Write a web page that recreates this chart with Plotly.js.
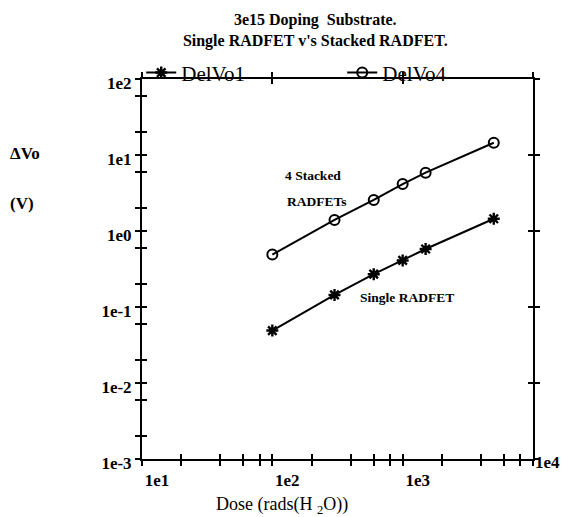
<!DOCTYPE html>
<html>
<head>
<meta charset="utf-8">
<script src="https://cdn.plot.ly/plotly-3.0.1.min.js"></script>
<style>html,body{margin:0;padding:0;background:#fff;}#chart{width:563px;height:517px;}</style>
</head>
<body>
<div id="chart"></div>
<script>
// Data
const dose = [100, 300, 600, 1000, 1500, 5000];
const delVo1 = [0.049, 0.144, 0.27, 0.41, 0.58, 1.45];   // Single RADFET
const delVo4 = [0.49, 1.40, 2.56, 4.15, 5.85, 14.5];     // 4 Stacked RADFETs
const seriesNames = ["DelVo1", "DelVo4"];
const xTickVals = [10, 100, 1000, 10000];
const xTickText = ["1e1", "1e2", "1e3", ""];
const xMinorVals = [20, 40, 60, 80, 200, 400, 600, 800, 2000, 4000, 6000, 8000];
const yTickVals = [0.001, 0.01, 0.1, 1, 10, 100];
const yTickText = ["1e-3", "1e-2", "1e-1", "1e0", "1e1", "1e2"];
const yMinorVals = [0.002, 0.006, 0.02, 0.06, 0.2, 0.6, 2, 6, 20, 60];

const serif = "Liberation Serif";
const black = "#000";

const traces = [
  {x: dose, y: delVo1, name: seriesNames[0], type: "scatter", mode: "lines+markers",
   line: {color: black, width: 2},
   marker: {symbol: "asterisk-open", size: 10, color: black, line: {color: black, width: 2.4}}},
  {x: dose, y: delVo4, name: seriesNames[1], type: "scatter", mode: "lines+markers",
   line: {color: black, width: 2},
   marker: {symbol: "circle-open", size: 10, color: black, line: {color: black, width: 2}}},
  // empty helper traces so the frame/tick axes are drawn
  {x: [], y: [], xaxis: "x2", yaxis: "y2", showlegend: false, hoverinfo: "skip", mode: "markers"},
  {x: [], y: [], xaxis: "x3", yaxis: "y3", showlegend: false, hoverinfo: "skip", mode: "markers"},
  {x: [], y: [], xaxis: "x4", yaxis: "y4", showlegend: false, hoverinfo: "skip", mode: "markers"}
];

const tickFont = {family: serif, size: 17, color: black, weight: "bold"};
const common = {type: "log", showgrid: false, zeroline: false, tickcolor: black, tickwidth: 2, ticklen: 5, fixedrange: true};

const xr = [1, 4], yr = [-3, 2];
const layout = {
  width: 563, height: 517,
  margin: {l: 142, r: 30, t: 79, b: 58},
  paper_bgcolor: "#fff", plot_bgcolor: "rgba(0,0,0,0)",
  font: {family: serif, color: black},
  showlegend: true,
  title: {text: "3e15 Doping\u00a0 Substrate.<br>Single RADFET v's Stacked RADFET.",
          x: 0.56, xanchor: "center", y: 0.952, yanchor: "top",
          font: {family: serif, size: 16, color: black, weight: "bold"}},
  legend: {orientation: "h", x: -0.002, xanchor: "left", y: 1.016, yanchor: "middle",
           entrywidth: 156, entrywidthmode: "pixels", bgcolor: "rgba(0,0,0,0)",
           font: {family: serif, size: 21, color: black}, itemclick: false},
  xaxis: Object.assign({}, common, {range: xr, showline: true, linecolor: black, linewidth: 2,
          ticks: "outside", tickmode: "array", tickvals: xTickVals, ticktext: xTickText,
          tickfont: tickFont, ticklabelshift: 15,
          minor: {tickmode: "array", tickvals: xMinorVals, ticks: "outside", ticklen: 5, tickwidth: 2, tickcolor: black}}),
  xaxis2: Object.assign({}, common, {range: xr, overlaying: "x", anchor: "y2", side: "bottom", showline: false,
          ticks: "inside", tickmode: "array", tickvals: xTickVals, showticklabels: false,
          minor: {tickmode: "array", tickvals: xMinorVals, ticks: "inside", ticklen: 5, tickwidth: 2, tickcolor: black}}),
  xaxis3: Object.assign({}, common, {range: xr, overlaying: "x", anchor: "y3", side: "top", showline: true, linecolor: black, linewidth: 2,
          ticks: "outside", tickmode: "array", tickvals: xTickVals, showticklabels: false}),
  xaxis4: Object.assign({}, common, {range: xr, overlaying: "x", anchor: "y4", side: "top", showline: false,
          ticks: "inside", tickmode: "array", tickvals: xTickVals, showticklabels: false}),
  yaxis: Object.assign({}, common, {range: yr, showline: true, linecolor: black, linewidth: 2,
          ticks: "outside", tickmode: "array", tickvals: yTickVals, ticktext: yTickText,
          tickfont: tickFont, ticklabelshift: 4,
          minor: {tickmode: "array", tickvals: yMinorVals, ticks: "outside", ticklen: 5, tickwidth: 2, tickcolor: black}}),
  yaxis2: Object.assign({}, common, {range: yr, overlaying: "y", anchor: "x2", side: "left", showline: false,
          ticks: "inside", tickmode: "array", tickvals: yTickVals, showticklabels: false,
          minor: {tickmode: "array", tickvals: yMinorVals, ticks: "inside", ticklen: 5, tickwidth: 2, tickcolor: black}}),
  yaxis3: Object.assign({}, common, {range: yr, overlaying: "y", anchor: "x3", side: "right", showline: true, linecolor: black, linewidth: 2,
          ticks: "outside", tickmode: "array", tickvals: yTickVals, showticklabels: false}),
  yaxis4: Object.assign({}, common, {range: yr, overlaying: "y", anchor: "x4", side: "right", showline: false,
          ticks: "inside", tickmode: "array", tickvals: yTickVals, showticklabels: false}),
  annotations: [
    {text: "1e4", xref: "x", yref: "paper", x: 4, y: 0, xanchor: "center", yanchor: "middle",
     xshift: 14, yshift: -3, showarrow: false, font: tickFont},
    {text: "Dose (rads(H <sub>2</sub>O))", xref: "paper", yref: "paper", x: (282 - 142) / 391, y: 0,
     xanchor: "center", yanchor: "middle", yshift: -46, showarrow: false,
     font: {family: serif, size: 18, color: black}},
    {text: "\u0394Vo", xref: "paper", yref: "paper", x: -134 / 391, y: (459 - 153) / 380,
     xanchor: "left", yanchor: "middle", showarrow: false,
     font: {family: serif, size: 17, color: black, weight: "bold"}},
    {text: "(V)", xref: "paper", yref: "paper", x: -134 / 391, y: (459 - 203) / 380,
     xanchor: "left", yanchor: "middle", showarrow: false,
     font: {family: serif, size: 17, color: black, weight: "bold"}},
    {text: "4 Stacked", xref: "x", yref: "y", x: 2.312, y: 0.724, xanchor: "center", yanchor: "middle",
     showarrow: false, font: {family: serif, size: 13.5, color: black, weight: "bold"}},
    {text: "RADFETs", xref: "x", yref: "y", x: 2.343, y: 0.382, xanchor: "center", yanchor: "middle",
     showarrow: false, font: {family: serif, size: 13.5, color: black, weight: "bold"}},
    {text: "Single RADFET", xref: "x", yref: "y", x: 3.031, y: -0.878, xanchor: "center", yanchor: "middle",
     showarrow: false, font: {family: serif, size: 13.5, color: black, weight: "bold"}}
  ]
};

Plotly.newPlot("chart", traces, layout, {staticPlot: true, displayModeBar: false});
</script>
</body>
</html>
